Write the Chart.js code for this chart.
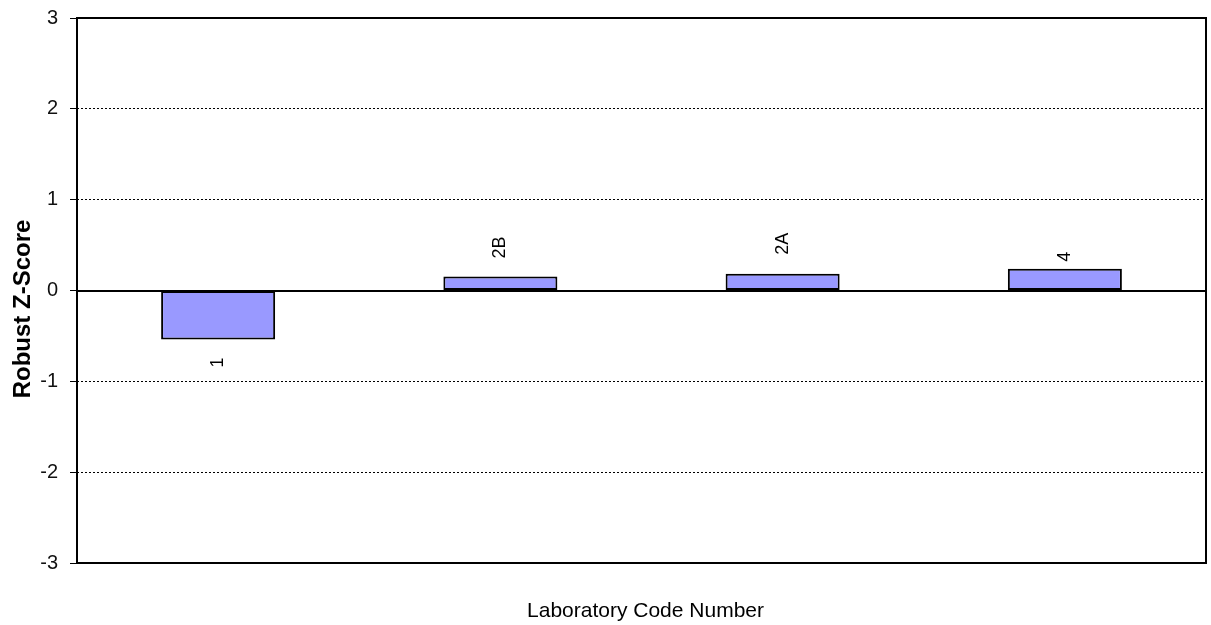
<!DOCTYPE html>
<html>
<head>
<meta charset="utf-8">
<script src="https://cdn.jsdelivr.net/npm/chart.js@4"></script>
<style>
  body { margin: 0; background: #fff; }
  #wrap { width: 1211px; height: 625px; }
</style>
</head>
<body>
<div id="wrap"><canvas id="myChart" width="1211" height="625"></canvas></div>
<script>
var labCodes = ['1', '2B', '2A', '4']
var zScores = [-0.54, 0.155, 0.185, 0.24]
var yTicks = [-3, -2, -1, 0, 1, 2, 3]

var chartField = document.querySelector('#myChart').getContext('2d')

// bar labels, zero line, frame and the two axis titles
var decorations = {
    id: 'decorations',
    afterDatasetsDraw: function (chart) {
        var ctx = chart.ctx
        var area = chart.chartArea
        var y = chart.scales.y
        ctx.save()
        ctx.strokeStyle = '#000'
        ctx.lineWidth = 2
        var zy = Math.round(y.getPixelForValue(0))
        ctx.beginPath()
        ctx.moveTo(area.left, zy)
        ctx.lineTo(area.right, zy)
        ctx.stroke()
        ctx.strokeRect(area.left, area.top, area.right - area.left, area.bottom - area.top)

        ctx.fillStyle = '#000'
        ctx.font = '18px "Liberation Sans", Arial, sans-serif'
        ctx.textBaseline = 'middle'
        var gaps = [18, 18, 19, 7]
        chart.getDatasetMeta(0).data.forEach(function (bar, i) {
            var v = zScores[i]
            ctx.save()
            if (v >= 0) {
                ctx.translate(bar.x, bar.y - gaps[i])
                ctx.textAlign = 'left'
            } else {
                ctx.translate(bar.x, bar.y + gaps[i])
                ctx.textAlign = 'right'
            }
            ctx.rotate(-Math.PI / 2)
            ctx.fillText(labCodes[i], 0, 0)
            ctx.restore()
        })

        ctx.textAlign = 'center'
        ctx.font = '21px "Liberation Sans", Arial, sans-serif'
        ctx.fillText('Laboratory Code Number', (area.left + area.right) / 2 + 4, 611)

        ctx.save()
        ctx.translate(23, 309)
        ctx.rotate(-Math.PI / 2)
        ctx.font = 'bold 24px "Liberation Sans", Arial, sans-serif'
        ctx.fillText('Robust Z-Score', 0, 0)
        ctx.restore()
        ctx.restore()
    }
}

var myChart = new Chart(chartField, {
    type: 'bar',
    data: {
        labels: labCodes,
        datasets: [{
            data: zScores,
            backgroundColor: '#9999ff',
            borderColor: '#000',
            borderWidth: 2,
            borderSkipped: false,
            categoryPercentage: 1,
            barPercentage: 0.404
        }]
    },
    options: {
        responsive: false,
        animation: false,
        events: [],
        layout: { padding: { left: 0, right: 5, top: 18, bottom: 0 } },
        plugins: {
            legend: { display: false },
            tooltip: { enabled: false }
        },
        scales: {
            x: {
                grid: { display: false },
                border: { display: false },
                ticks: { display: false },
                afterFit: function (scale) { scale.height = 62 }
            },
            y: {
                min: -3,
                max: 3,
                afterBuildTicks: function (scale) {
                    scale.ticks = yTicks.map(function (v) { return { value: v } })
                },
                afterFit: function (scale) {
                    scale.width = 77
                    scale.paddingTop = 0
                    scale.paddingBottom = 0
                },
                border: { display: false, dash: [2, 2] },
                grid: {
                    color: function (c) {
                        var v = c.tick ? c.tick.value : null
                        return (v === 0 || v === 3 || v === -3) ? 'rgba(0,0,0,0)' : '#000'
                    },
                    lineWidth: 1,
                    tickColor: '#000',
                    tickLength: 7,
                    tickWidth: 1
                },
                ticks: {
                    color: '#111',
                    padding: 12,
                    font: { family: '"Liberation Sans", Arial, sans-serif', size: 20 }
                }
            }
        }
    },
    plugins: [decorations]
})
</script>
</body>
</html>
